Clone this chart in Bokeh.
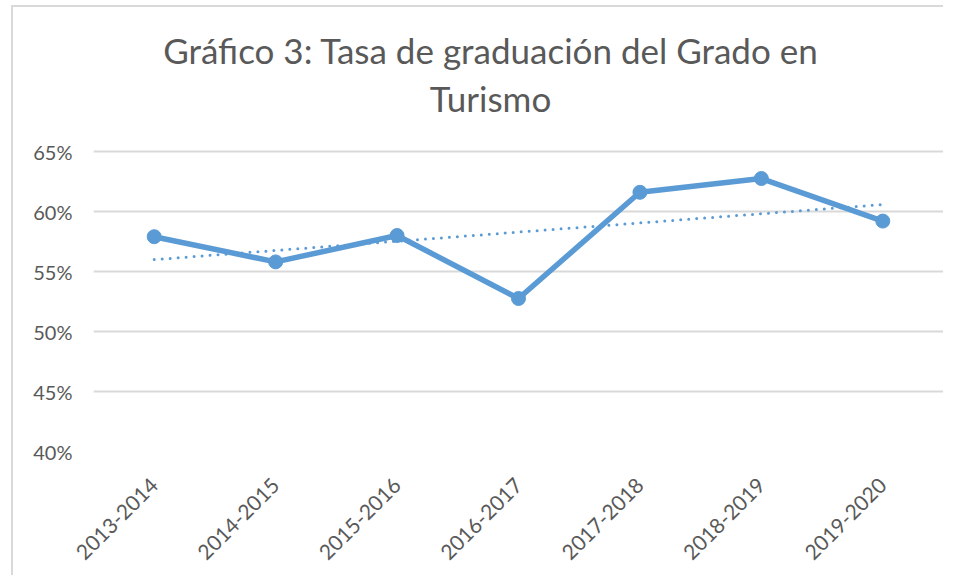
import numpy as np
from bokeh.plotting import figure
from bokeh.models import FixedTicker, Label, ColumnDataSource
from bokeh.embed import file_html
from bokeh.resources import INLINE

# ---- data ----
cursos = ["2013-2014", "2014-2015", "2015-2016", "2016-2017",
          "2017-2018", "2018-2019", "2019-2020"]
tasa = [57.9, 55.8, 58.0, 52.75, 61.6, 62.75, 59.2]   # %
y_ticks = [40, 45, 50, 55, 60, 65]
y_tick_labels = ["40%", "45%", "50%", "55%", "60%", "65%"]
titulo_1 = "Gráfico 3: Tasa de graduación del  Grado en"
titulo_2 = "Turismo"

# linear trend (least squares, like Excel's linear trendline)
xi = np.arange(1, len(tasa) + 1)
m, b = np.polyfit(xi, tasa, 1)
tendencia = list(m * xi + b)

BLUE = "#5B9BD5"
GRAY_TXT = "#595959"
GRID = "#D9D9D9"
FONT = "Lato"

# frame covers the title area too (ticks/grid only 40..65); 12 px per 1 %
Y_TOP = 65 + 140 / 12

p = figure(x_range=cursos, y_range=(40, Y_TOP), width=932, height=570,
           output_backend="svg", toolbar_location=None,
           min_border_left=80, min_border_right=2,
           min_border_top=4, min_border_bottom=126,
           background_fill_color="white", border_fill_color="white",
           styles={"border-left": "2px solid #D9D9D9",
                   "border-top": "2px solid #D9D9D9",
                   "margin-left": "11px", "margin-top": "5px"})
p.outline_line_color = None
p.xgrid.grid_line_color = None
p.ygrid.grid_line_color = GRID
p.ygrid.grid_line_width = 2
p.ygrid.ticker = FixedTicker(ticks=y_ticks)

p.yaxis.ticker = FixedTicker(ticks=y_ticks)
p.yaxis.major_label_overrides = {t: l for t, l in zip(y_ticks, y_tick_labels)}
for ax in (p.xaxis, p.yaxis):
    ax.axis_line_color = None
    ax.major_tick_line_color = None
    ax.minor_tick_line_color = None
    ax.major_label_text_font = FONT
    ax.major_label_text_color = GRAY_TXT
p.yaxis.major_label_text_font_size = "20px"
p.xaxis.major_label_text_font_size = "21px"
p.yaxis.major_label_standoff = 15
p.xaxis.major_label_orientation = np.pi / 4
p.xaxis.major_label_standoff = 24

src = ColumnDataSource(dict(x=cursos, y=tasa, t=tendencia))
p.line("x", "t", source=src, line_color=BLUE, line_width=3,
       line_dash="0 8", line_cap="round")
p.line("x", "y", source=src, line_color=BLUE, line_width=5.5,
       line_join="round")
p.scatter("x", "y", source=src, size=14, fill_color=BLUE, line_color=BLUE)

for txt, xx, yy in ((titulo_1, 402, 402), (titulo_2, 397, 354)):
    p.add_layout(Label(x=xx, y=yy, x_units="screen", y_units="screen",
                       text=txt, text_align="center",
                       text_baseline="alphabetic", text_font=FONT,
                       text_font_size="35px", text_color=GRAY_TXT))

open("out.html", "w").write(file_html(p, INLINE))
